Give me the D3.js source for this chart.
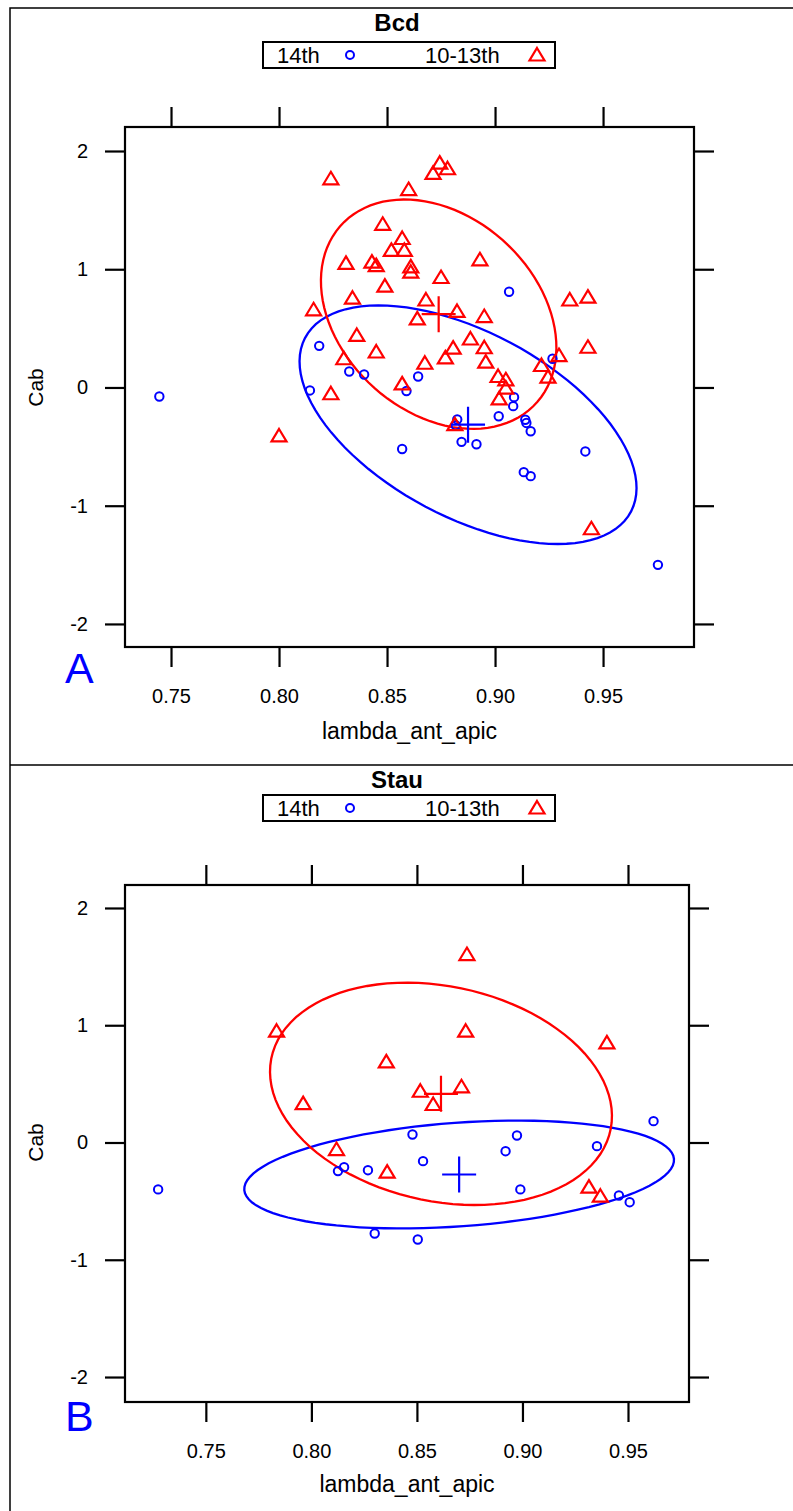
<!DOCTYPE html>
<html>
<head>
<meta charset="utf-8">
<script src="https://cdn.jsdelivr.net/npm/d3@7"></script>
<style>
body { margin: 0; background: #fff; }
text { font-family: "Liberation Sans", Arial, sans-serif; }
</style>
</head>
<body>
<svg width="793" height="1511"></svg>
<script>
// ---- data ----
const groups = ["14th", "10-13th"];
const xTicks = [0.75, 0.80, 0.85, 0.90, 0.95];
const yTicks = [-2, -1, 0, 1, 2];

// Bcd panel: [lambda_ant_apic, Cab]
const bcd14 = [
  [0.7446, -0.076], [0.8186, 0.352], [0.8325, 0.135], [0.8394, 0.110],
  [0.8143, -0.025], [0.8644, 0.093], [0.8590, -0.030], [0.8570, -0.520],
  [0.9065, 0.810], [0.9266, 0.243], [0.9088, -0.082], [0.9084, -0.158],
  [0.9017, -0.243], [0.8825, -0.270], [0.8818, -0.320], [0.9140, -0.273],
  [0.9145, -0.300], [0.9165, -0.370], [0.8845, -0.460], [0.8914, -0.480],
  [0.9418, -0.541], [0.9133, -0.716], [0.9165, -0.750], [0.9754, -1.500]
];
const bcd1013 = [
  [0.824, 1.765], [0.8744, 1.897], [0.878, 1.850], [0.8713, 1.810],
  [0.860, 1.674], [0.848, 1.380], [0.857, 1.260], [0.852, 1.160],
  [0.858, 1.160], [0.831, 1.050], [0.843, 1.060], [0.845, 1.030],
  [0.861, 1.020], [0.861, 0.975], [0.875, 0.930], [0.849, 0.857],
  [0.834, 0.755], [0.868, 0.740], [0.816, 0.657], [0.864, 0.580],
  [0.836, 0.440], [0.845, 0.300], [0.8675, 0.205], [0.830, 0.243],
  [0.857, 0.030], [0.824, -0.053], [0.800, -0.410], [0.893, 1.080],
  [0.9346, 0.740], [0.943, 0.764], [0.8824, 0.643], [0.895, 0.600],
  [0.943, 0.340], [0.8886, 0.410], [0.8806, 0.333], [0.895, 0.336],
  [0.877, 0.250], [0.8957, 0.214], [0.9296, 0.270], [0.9215, 0.186],
  [0.9245, 0.087], [0.9014, 0.093], [0.905, 0.065], [0.905, -0.006],
  [0.9019, -0.096], [0.8814, -0.315], [0.9446, -1.195]
];

// Stau panel
const stau14 = [
  [0.7274, -0.400], [0.8126, -0.244], [0.8155, -0.210], [0.8268, -0.236],
  [0.8479, 0.068], [0.8529, -0.159], [0.8974, 0.060], [0.8920, -0.074],
  [0.9353, -0.031], [0.9621, 0.182], [0.8990, -0.400], [0.9457, -0.452],
  [0.9508, -0.509], [0.8300, -0.776], [0.8504, -0.827]
];
const stau1013 = [
  [0.7835, 0.949], [0.7961, 0.332], [0.8119, -0.060], [0.8355, 0.688],
  [0.8359, -0.253], [0.8516, 0.437], [0.8577, 0.324], [0.8711, 0.475],
  [0.8731, 0.949], [0.8737, 1.603], [0.9400, 0.850], [0.9315, -0.381],
  [0.9369, -0.458]
];

// ellipse summaries: [centreX, centreY, halfWidth, halfHeight, corr]
const bcdEll14 = [0.8875, -0.315, 0.078, 1.009, -0.53];
const bcdEll1013 = [0.8739, 0.620, 0.0545, 0.970, -0.29];
const stauEll14 = [0.8700, -0.273, 0.1018, 0.460, 0.27];
const stauEll1013 = [0.8614, 0.415, 0.0810, 0.948, -0.20];

const blue = "#0000ff", red = "#ff0000";
const svg = d3.select("svg");

// figure frame
svg.append("path")
  .attr("d", "M793,8 H10 V1511 M10,765 H793")
  .attr("fill", "none").attr("stroke", "#000").attr("stroke-width", 1.5);

function trianglePath(cx, cy) {
  return `M${cx},${cy - 7} L${cx + 7.5},${cy + 5.5} L${cx - 7.5},${cy + 5.5} Z`;
}

function ellipsePts(e) {
  const [cx, cy, hx, hy, r] = e;
  const d = Math.acos(r);
  return d3.range(0, 101).map(i => {
    const a = i / 100 * 2 * Math.PI;
    return [cx + hx * Math.cos(a + d / 2), cy + hy * Math.cos(a - d / 2)];
  });
}

function drawPanel(p) {
  const g = svg.append("g");
  const x = d3.scaleLinear().domain(p.xDom).range([p.left, p.right]);
  const y = d3.scaleLinear().domain(p.yDom).range([p.bottom, p.top]);

  // title
  g.append("text").attr("x", 397).attr("y", p.titleY)
    .attr("text-anchor", "middle").attr("font-size", 24).attr("font-weight", "bold")
    .text(p.title);

  // legend
  const ly = p.legendY;
  g.append("rect").attr("x", 263).attr("y", ly).attr("width", 292).attr("height", 26)
    .attr("fill", "none").attr("stroke", "#000").attr("stroke-width", 2);
  g.append("text").attr("x", 277).attr("y", ly + 21).attr("font-size", 22).text(groups[0]);
  g.append("circle").attr("cx", 350).attr("cy", ly + 13).attr("r", 4)
    .attr("fill", "none").attr("stroke", blue).attr("stroke-width", 2);
  g.append("text").attr("x", 425).attr("y", ly + 21).attr("font-size", 22).text(groups[1]);
  g.append("path").attr("d", trianglePath(537, ly + 13))
    .attr("fill", "none").attr("stroke", red).attr("stroke-width", 2.2);

  // axes
  const tickLen = 20;
  const axB = g.append("g").attr("transform", `translate(0,${p.bottom})`)
    .call(d3.axisBottom(x).tickValues(xTicks).tickFormat(d3.format(".2f"))
      .tickSize(tickLen).tickSizeOuter(0).tickPadding(22));
  const axT = g.append("g").attr("transform", `translate(0,${p.top})`)
    .call(d3.axisTop(x).tickValues(xTicks).tickFormat("").tickSize(tickLen).tickSizeOuter(0));
  const axL = g.append("g").attr("transform", `translate(${p.left},0)`)
    .call(d3.axisLeft(y).tickValues(yTicks).tickFormat(d3.format("d"))
      .tickSize(tickLen).tickSizeOuter(0).tickPadding(17));
  const axR = g.append("g").attr("transform", `translate(${p.right},0)`)
    .call(d3.axisRight(y).tickValues(yTicks).tickFormat("").tickSize(tickLen).tickSizeOuter(0));
  [axB, axT, axL, axR].forEach(a => {
    a.select(".domain").remove();
    a.selectAll("line").attr("stroke", "#000").attr("stroke-width", 2.2);
    a.selectAll("text").attr("font-size", 20).attr("fill", "#000")
      .attr("font-family", "'Liberation Sans', Arial, sans-serif");
  });
  axL.selectAll("text").text(d => d < 0 ? "-" + Math.abs(d) : d);

  // plot box
  g.append("rect").attr("x", p.left).attr("y", p.top)
    .attr("width", p.right - p.left).attr("height", p.bottom - p.top)
    .attr("fill", "none").attr("stroke", "#000").attr("stroke-width", 2.2);

  // axis titles
  g.append("text").attr("x", (p.left + p.right) / 2).attr("y", p.xlabY)
    .attr("text-anchor", "middle").attr("font-size", 23).text("lambda_ant_apic");
  g.append("text")
    .attr("transform", `translate(43,${y(0)}) rotate(-90)`)
    .attr("text-anchor", "middle").attr("font-size", 21).text("Cab");

  // panel letter
  g.append("text").attr("x", 65).attr("y", p.letterY)
    .attr("font-size", 43).attr("fill", blue).text(p.letter);

  // ellipses
  const line = d3.line().x(d => x(d[0])).y(d => y(d[1]));
  [[p.ell14, blue], [p.ell1013, red]].forEach(([e, c]) => {
    g.append("path").attr("d", line(ellipsePts(e)))
      .attr("fill", "none").attr("stroke", c).attr("stroke-width", 2.3);
  });

  // points
  g.append("g").selectAll("circle").data(p.d14).join("circle")
    .attr("cx", d => x(d[0])).attr("cy", d => y(d[1])).attr("r", 4.2)
    .attr("fill", "none").attr("stroke", blue).attr("stroke-width", 2);
  g.append("g").selectAll("path").data(p.d1013).join("path")
    .attr("d", d => trianglePath(x(d[0]), y(d[1])))
    .attr("fill", "none").attr("stroke", red).attr("stroke-width", 2.2);

  // centre crosses
  [[p.ell14, blue], [p.ell1013, red]].forEach(([e, c]) => {
    const cx = x(e[0]), cy = y(e[1]);
    g.append("path").attr("d", `M${cx - 17},${cy} H${cx + 17} M${cx},${cy - 18} V${cy + 18}`)
      .attr("stroke", c).attr("stroke-width", 2.2);
  });
}

drawPanel({
  title: "Bcd", letter: "A", titleY: 31, legendY: 42,
  left: 125, right: 694, top: 127, bottom: 647,
  xDom: [0.7287, 0.9921], yDom: [-2.195, 2.203],
  xlabY: 739, letterY: 683,
  d14: bcd14, d1013: bcd1013, ell14: bcdEll14, ell1013: bcdEll1013
});

drawPanel({
  title: "Stau", letter: "B", titleY: 788, legendY: 795,
  left: 125, right: 689, top: 885, bottom: 1402,
  xDom: [0.7117, 0.9789], yDom: [-2.213, 2.196],
  xlabY: 1492, letterY: 1431,
  d14: stau14, d1013: stau1013, ell14: stauEll14, ell1013: stauEll1013
});
</script>
</body>
</html>
